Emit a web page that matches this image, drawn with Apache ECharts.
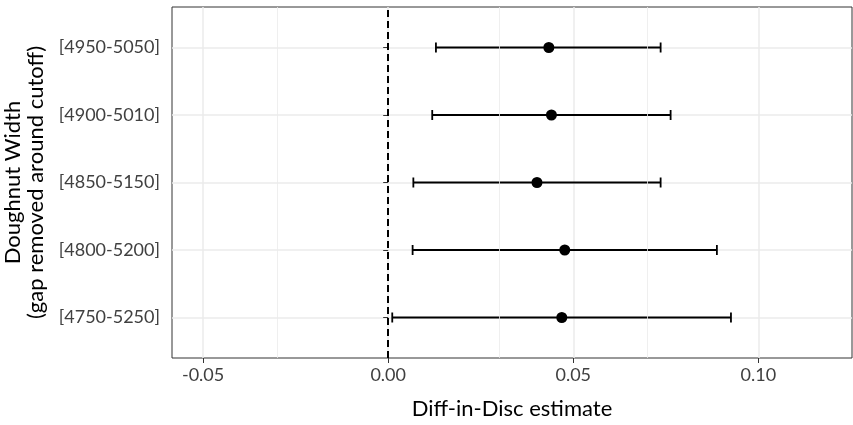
<!DOCTYPE html>
<html>
<head>
<meta charset="utf-8">
<script src="https://cdn.jsdelivr.net/npm/echarts@6/dist/echarts.min.js"></script>
<style>
html,body{margin:0;padding:0;background:#fff;}
#chart{width:853px;height:425px;}
</style>
</head>
<body>
<div id="chart"></div>
<script>
const categories = ['[4750-5250]', '[4800-5200]', '[4850-5150]', '[4900-5010]', '[4950-5050]'];
const estimates = [0.0469, 0.0477, 0.0402, 0.0441, 0.0434];
const ciLower = [0.0011, 0.0066, 0.0068, 0.0119, 0.0129];
const ciUpper = [0.0926, 0.0888, 0.0736, 0.0763, 0.0736];
const xTicks = [-0.05, 0, 0.05, 0.10];
const xMinorBreaks = [-0.025, 0.025, 0.075];
const yPositions = categories.map((c, i) => i + 1);

const FONT = 'Lato';
const chart = echarts.init(document.getElementById('chart'), null, {renderer: 'canvas'});

const ciData = categories.map((c, i) => [yPositions[i], ciLower[i], ciUpper[i]]);
const pointData = categories.map((c, i) => [estimates[i], yPositions[i]]);

chart.setOption({
  animation: false,
  backgroundColor: '#ffffff',
  grid: {left: 172, right: 1, top: 7, bottom: 67, containLabel: false, outerBoundsMode: 'none',
         show: true, borderColor: '#333333', borderWidth: 1},
  xAxis: {
    type: 'value', min: -0.0584, max: 0.1253,
    name: 'Diff-in-Disc estimate', nameLocation: 'middle', nameGap: 40,
    nameTextStyle: {fontFamily: FONT, fontSize: 22, color: '#000'},
    axisLine: {show: false},
    axisTick: {show: true, length: 5, customValues: xTicks, lineStyle: {color: '#333333', width: 1}},
    axisLabel: {customValues: xTicks, fontFamily: FONT, fontSize: 18, color: '#404040', margin: 8,
                formatter: v => v.toFixed(2)},
    splitLine: {show: true, lineStyle: {color: '#ebebeb', width: 1.5}}
  },
  yAxis: {
    type: 'value', min: 0.4, max: 5.6,
    name: 'Doughnut Width\n(gap removed around cutoff)', nameLocation: 'middle', nameGap: 117, nameRotate: 90,
    nameTextStyle: {fontFamily: FONT, fontSize: 22, color: '#000', lineHeight: 23},
    axisLine: {show: false},
    axisTick: {show: true, length: 5, customValues: yPositions, lineStyle: {color: '#333333', width: 1}},
    axisLabel: {customValues: yPositions, fontFamily: FONT, fontSize: 18, color: '#404040', margin: 12,
                formatter: v => categories[Math.round(v) - 1]},
    splitLine: {show: true, lineStyle: {color: '#ebebeb', width: 1.5}}
  },
  series: [
    {
      type: 'line', data: [], silent: true,
      markLine: {
        silent: true, symbol: 'none', label: {show: false},
        lineStyle: {color: '#ebebeb', width: 0.8, type: 'solid'},
        data: xMinorBreaks.map(v => ({xAxis: v}))
      }
    },
    {
      type: 'line', data: [], silent: true,
      markLine: {
        silent: true, symbol: 'none', label: {show: false},
        lineStyle: {color: '#000000', width: 2, type: [7, 4]},
        data: [{xAxis: 0}]
      },
      z: 3
    },
    {
      type: 'custom', z: 4,
      data: ciData,
      renderItem: function (params, api) {
        const y = api.value(0);
        const p1 = api.coord([api.value(1), y]);
        const p2 = api.coord([api.value(2), y]);
        const h = 5;
        const style = {stroke: '#000', lineWidth: 1.8};
        return {
          type: 'group',
          children: [
            {type: 'line', shape: {x1: p1[0], y1: p1[1], x2: p2[0], y2: p2[1]}, style: style},
            {type: 'line', shape: {x1: p1[0], y1: p1[1] - h, x2: p1[0], y2: p1[1] + h}, style: style},
            {type: 'line', shape: {x1: p2[0], y1: p2[1] - h, x2: p2[0], y2: p2[1] + h}, style: style}
          ]
        };
      },
      encode: {x: [1, 2], y: 0}
    },
    {
      type: 'scatter', z: 5,
      data: pointData,
      symbol: 'circle', symbolSize: 11,
      itemStyle: {color: '#000', opacity: 1}
    }
  ]
});
</script>
</body>
</html>
